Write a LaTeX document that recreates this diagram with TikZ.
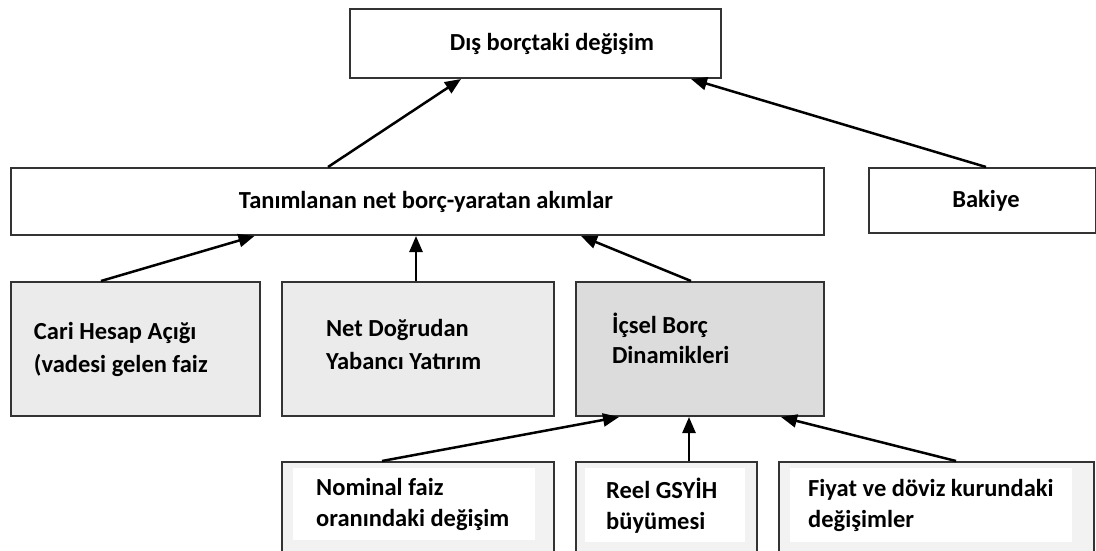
\documentclass[tikz,border=0pt]{standalone}
\usepackage{fontspec}
\setmainfont{Carlito}
\usepackage{xcolor}
\usetikzlibrary{
  	positioning,
  	arrows.meta,
  	calc
  }
\definecolor{boxgray}{HTML}{EBEBEB}
\definecolor{boxdark}{HTML}{DCDCDC}
\definecolor{boxpale}{HTML}{F2F2F2}
\tikzstyle{box}=[draw=black!80,line width=2pt,fill=white,anchor=north west,inner sep=0pt,font=\fontsize{24.5}{33}\selectfont\bfseries]
\tikzstyle{txt}=[anchor=north west,inner ysep=0pt,align=flush left,font=\fontsize{24.5}{31}\selectfont\bfseries]
\tikzstyle{arr}=[line width=2.5pt,-{Triangle[length=16pt,width=13pt]}]

\begin{document}
\begin{tikzpicture}[x=1pt,y=-1pt]
    \clip (0,0) rectangle (1096,551);
    \fill[white] (0,0) rectangle (1096,551);
    \node [box, minimum width=371, minimum height=69] (top) at (349,8) {\hspace*{33pt}Dış borçtaki değişim};
    \node [box, minimum width=813, minimum height=67] (tan) at (10,167) {\hspace*{17pt}Tanımlanan net borç-yaratan akımlar};
    \node [box, minimum width=227, minimum height=65] (bak) at (868,167) {\hspace*{7pt}Bakiye};
    \node [box, fill=boxgray, minimum width=249, minimum height=134, inner xsep=23pt, text width=203, align=flush left] (cari) at (10,281) {Cari Hesap Açığı\\(vadesi gelen faiz};
    \node [box, fill=boxgray, minimum width=272, minimum height=134, inner xsep=44pt, text width=184, align=flush left] (net) at (281,281) {Net Doğrudan\\Yabancı Yatırım\\[-23pt]\mbox{}};
    \node [box, fill=boxdark, minimum width=248, minimum height=134, inner xsep=36pt, text width=176, align=flush left, font=\fontsize{24.5}{30}\selectfont\bfseries] (ic) at (575,281) {İçsel Borç\\Dinamikleri\\[-8pt]\mbox{}};
    \node [box, fill=boxpale, minimum width=272, minimum height=110] (nom) at (281,461) {};
    \node [box, fill=boxpale, minimum width=181, minimum height=110] (reel) at (575,461) {};
    \node [box, fill=boxpale, minimum width=315, minimum height=110] (fiy) at (778,461) {};
    \node [txt, fill=white, minimum width=242, minimum height=72, inner xsep=23pt, text width=196] (nomt) at (293,468) {Nominal faiz\\oranındaki değişim};
    \node [txt, fill=white, minimum width=160, minimum height=74, inner xsep=21pt, text width=118] (reelt) at (585,468) {Reel GSYİH\\büyümesi};
    \node [txt, fill=white, minimum width=282, minimum height=74, inner xsep=18pt, text width=246] (fiyt) at (790,468) {Fiyat ve döviz kurundaki\\değişimler};
    \draw [arr] ([xshift=-89.5]tan.north) -- ([xshift=-74.5]top.south);
    \draw [arr] ([xshift=3.5]bak.north) -- ([xshift=155.5]top.south);
    \draw [arr] ([xshift=-34.5]cari.north) -- ([xshift=-163]tan.south);
    \draw [arr] ([xshift=-2]net.north) -- ([xshift=-1.5]tan.south);
    \draw [arr] ([xshift=-9]ic.north) -- ([xshift=163.5]tan.south);
    \draw [arr] ([xshift=-36]nom.north) -- ([xshift=-81]ic.south);
    \draw [arr] ([xshift=22.5]reel.north) -- ([xshift=-11]ic.south);
    \draw [arr] ([xshift=19.5]fiy.north) -- ([xshift=81]ic.south);
\end{tikzpicture}
\end{document}
